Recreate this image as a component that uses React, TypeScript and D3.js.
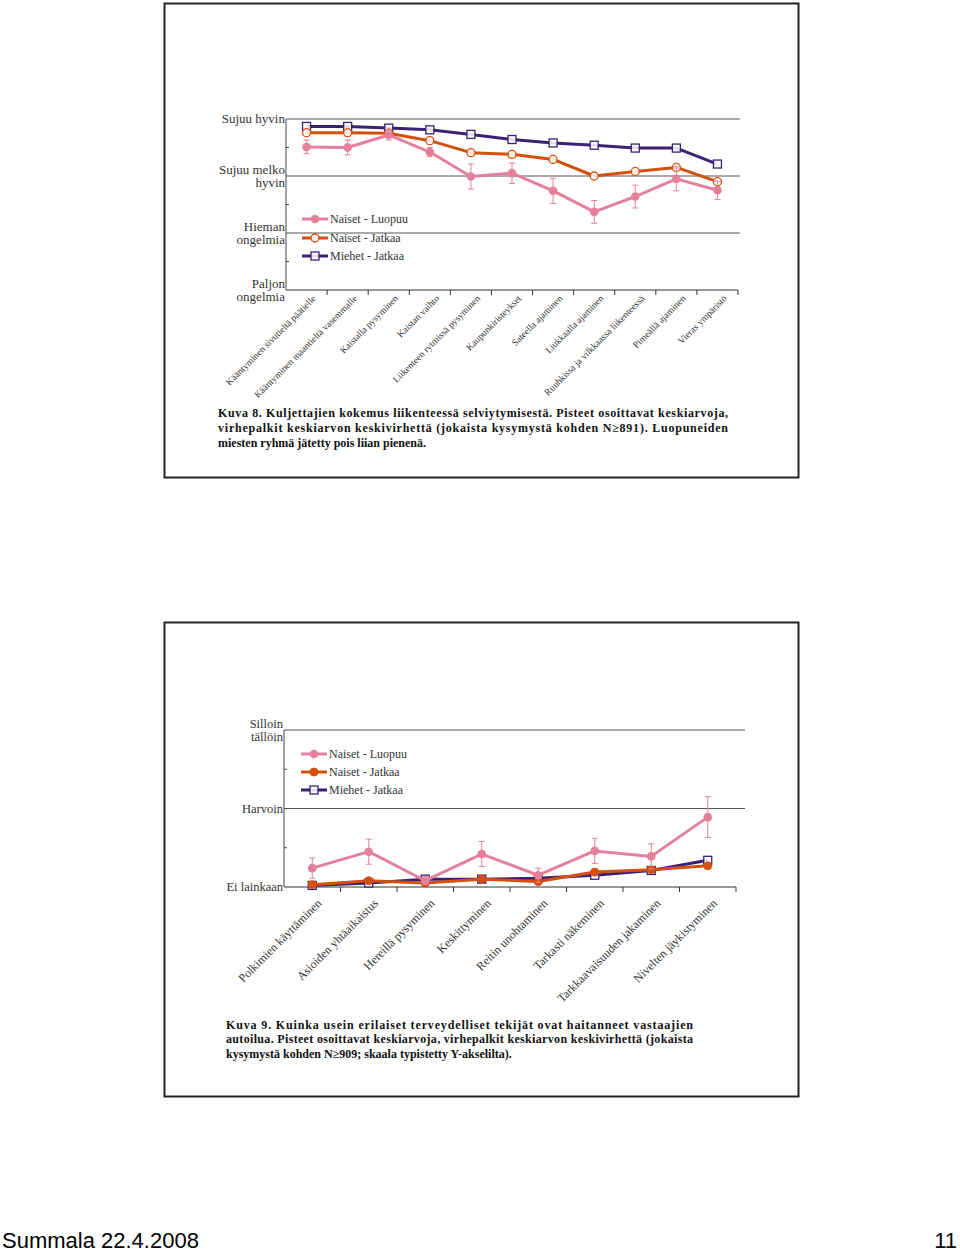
import React from "react";
import * as d3 from "d3";

// ---------- Data: chart 1 (Kuva 8) ----------
const topCategories = [
  "Kääntyminen sivutieltä päätielle",
  "Kääntyminen maantieltä vasemmalle",
  "Kaistalla pysyminen",
  "Kaistan vaihto",
  "Liikenteen rytmissä pysyminen",
  "Kaupunkiristeykset",
  "Sateella ajaminen",
  "Liukkaalla ajaminen",
  "Ruuhkissa ja vilkkaassa liikenteessä",
  "Pimeällä ajaminen",
  "Vieras ympäristö",
];
const topNaisetLuopuu = [3.51, 3.5, 3.72, 3.42, 2.99, 3.05, 2.74, 2.37, 2.64, 2.95, 2.75];
const topNaisetLuopuuErr = [0.12, 0.13, 0.09, 0.08, 0.22, 0.18, 0.22, 0.2, 0.2, 0.21, 0.16];
const topNaisetJatkaa = [3.76, 3.76, 3.75, 3.62, 3.41, 3.38, 3.29, 3.0, 3.08, 3.15, 2.9];
const topMiehetJatkaa = [3.87, 3.87, 3.84, 3.81, 3.73, 3.64, 3.58, 3.54, 3.49, 3.49, 3.21];
const topYTicks = [
  { v: 4, lines: ["Sujuu hyvin"] },
  { v: 3, lines: ["Sujuu melko", "hyvin"] },
  { v: 2, lines: ["Hieman", "ongelmia"] },
  { v: 1, lines: ["Paljon", "ongelmia"] },
];
const topCaption = [
  "Kuva 8. Kuljettajien kokemus liikenteessä selviytymisestä. Pisteet osoittavat keskiarvoja,",
  "virhepalkit keskiarvon keskivirhettä (jokaista kysymystä kohden N≥891). Luopuneiden",
  "miesten ryhmä jätetty pois liian pienenä.",
];

// ---------- Data: chart 2 (Kuva 9) ----------
const botCategories = [
  "Polkimien käyttäminen",
  "Asioiden yhtäaikaistus",
  "Hereillä pysyminen",
  "Keskittyminen",
  "Reitin unohtaminen",
  "Tarkasti näkeminen",
  "Tarkkaavaisuuden jakaminen",
  "Nivelten jäykistyminen",
];
const botNaisetLuopuu = [1.24, 1.45, 1.08, 1.42, 1.15, 1.46, 1.39, 1.89];
const botNaisetLuopuuErr = [0.13, 0.16, 0.05, 0.16, 0.09, 0.16, 0.16, 0.26];
const botNaisetJatkaa = [1.03, 1.08, 1.05, 1.1, 1.07, 1.19, 1.22, 1.27];
const botMiehetJatkaa = [1.02, 1.05, 1.1, 1.1, 1.11, 1.15, 1.21, 1.34];
const botYTicks = [
  { v: 3, lines: ["Silloin", "tällöin"] },
  { v: 2, lines: ["Harvoin"] },
  { v: 1, lines: ["Ei lainkaan"] },
];
const botCaption = [
  "Kuva 9. Kuinka usein erilaiset terveydelliset tekijät ovat haitanneet vastaajien",
  "autoilua. Pisteet osoittavat keskiarvoja, virhepalkit keskiarvon keskivirhettä (jokaista",
  "kysymystä kohden N≥909; skaala typistetty Y-akselilta).",
];

const seriesNames = ["Naiset - Luopuu", "Naiset - Jatkaa", "Miehet - Jatkaa"];

const PINK = "#e5809c";
const ORANGE = "#d4500f";
const PURPLE = "#3b2173";
const SERIF = "'Liberation Serif', 'Times New Roman', serif";

type Series = {
  name: string;
  values: number[];
  err?: number[];
  color: string;
  marker: "dot" | "ring" | "square" | "dotFilled";
};

function Marker({ type, x, y, color }: { type: string; x: number; y: number; color: string }) {
  if (type === "square")
    return <rect x={x - 4} y={y - 4} width={8} height={8} fill="#fff" fillOpacity={0.85} stroke={color} strokeWidth={1.3} />;
  if (type === "ring")
    return <circle cx={x} cy={y} r={4} fill="#fff" fillOpacity={0.85} stroke={color} strokeWidth={1.3} />;
  if (type === "dotFilled")
    return <circle cx={x} cy={y} r={4} fill={color} stroke={color} strokeWidth={1} />;
  return <circle cx={x} cy={y} r={4.3} fill={color} />;
}

type ChartProps = {
  categories: string[];
  series: Series[];
  yTicks: { v: number; lines: string[] }[];
  yDomain: [number, number];
  x0: number;
  x1: number;
  gridEnd: number;
  yTop: number;
  yBottom: number;
  yLabelFont: number;
  labelFont: number;
  labelDx: number;
  labelY: number;
  legendX: number;
  legendY: number[];
  caption: string[];
  captionX: number;
  captionW: number;
  captionY: number;
  captionLH: number;
};

function Chart(p: ChartProps) {
  const x = d3.scaleBand<string>().domain(p.categories).range([p.x0, p.x1]);
  const y = d3.scaleLinear().domain(p.yDomain).range([p.yBottom, p.yTop]);
  const cx = (c: string) => (x(c) as number) + x.bandwidth() / 2;
  const line = d3
    .line<number>()
    .x((_, i) => cx(p.categories[i]))
    .y((v) => y(v));
  const minor = d3.range(p.yDomain[0] + 0.5, p.yDomain[1], 1);
  return (
    <g>
      {p.yTicks
        .filter((t) => t.v !== p.yDomain[0])
        .map((t) => (
          <line key={"g" + t.v} x1={p.x0} x2={p.gridEnd} y1={y(t.v)} y2={y(t.v)} stroke="#555" strokeWidth={1} />
        ))}
      <line x1={p.x0} x2={p.x0} y1={p.yTop} y2={p.yBottom} stroke="#444" strokeWidth={1} />
      <line x1={p.x0} x2={p.x1} y1={p.yBottom} y2={p.yBottom} stroke="#333" strokeWidth={1.2} />
      {minor.map((m) => (
        <line key={"m" + m} x1={p.x0} x2={p.x0 + 3} y1={y(m)} y2={y(m)} stroke="#444" />
      ))}
      {p.categories.map((c, i) => (
        <line key={"t" + i} x1={(x(c) as number) + x.bandwidth()} x2={(x(c) as number) + x.bandwidth()} y1={p.yBottom} y2={p.yBottom + 5} stroke="#333" />
      ))}
      {p.yTicks.map((t) => (
        <text key={"yl" + t.v} fontFamily={SERIF} fontSize={p.yLabelFont} fill="#333" textAnchor="end">
          {t.lines.map((l, j) => (
            <tspan key={j} x={p.x0 - 1} y={y(t.v) + 4 + (t.lines.length > 1 ? j * 13 - 6 : 0)}>
              {l}
            </tspan>
          ))}
        </text>
      ))}
      {p.categories.map((c) => (
        <text
          key={"xl" + c}
          fontFamily={SERIF}
          fontSize={p.labelFont}
          fill="#333"
          textAnchor="end"
          transform={`translate(${cx(c) + p.labelDx},${p.labelY}) rotate(-45)`}
        >
          {c}
        </text>
      ))}
      {p.series
        .slice()
        .reverse()
        .map((s) => (
          <g key={s.name}>
            {s.err &&
              s.values.map((v, i) => {
                const xx = cx(p.categories[i]);
                const e = s.err![i];
                return (
                  <g key={i} stroke={s.color} strokeWidth={1}>
                    <line x1={xx} x2={xx} y1={y(v - e)} y2={y(v + e)} />
                    <line x1={xx - 3} x2={xx + 3} y1={y(v - e)} y2={y(v - e)} />
                    <line x1={xx - 3} x2={xx + 3} y1={y(v + e)} y2={y(v + e)} />
                  </g>
                );
              })}
            <path d={line(s.values) || ""} fill="none" stroke={s.color} strokeWidth={3} strokeLinejoin="round" />
            {s.values.map((v, i) => (
              <Marker key={i} type={s.marker} x={cx(p.categories[i])} y={y(v)} color={s.color} />
            ))}
          </g>
        ))}
      {p.series.map((s, i) => (
        <g key={"lg" + i}>
          <line x1={p.legendX} x2={p.legendX + 26} y1={p.legendY[i]} y2={p.legendY[i]} stroke={s.color} strokeWidth={3} />
          <Marker type={s.marker} x={p.legendX + 13} y={p.legendY[i]} color={s.color} />
          <text x={p.legendX + 28} y={p.legendY[i] + 4} fontFamily={SERIF} fontSize={12} fill="#333">
            {s.name}
          </text>
        </g>
      ))}
      {p.caption.map((l, i) => (
        <text
          key={"c" + i}
          x={p.captionX}
          y={p.captionY + i * p.captionLH}
          fontFamily={SERIF}
          fontWeight="bold"
          fontSize={12}
          fill="#111"
          {...(i < p.caption.length - 1 ? { textLength: p.captionW, lengthAdjust: "spacing" } : {})}
        >
          {l}
        </text>
      ))}
    </g>
  );
}

export default function App() {
  const topSeries: Series[] = [
    { name: seriesNames[0], values: topNaisetLuopuu, err: topNaisetLuopuuErr, color: PINK, marker: "dot" },
    { name: seriesNames[1], values: topNaisetJatkaa, color: ORANGE, marker: "ring" },
    { name: seriesNames[2], values: topMiehetJatkaa, color: PURPLE, marker: "square" },
  ];
  const botSeries: Series[] = [
    { name: seriesNames[0], values: botNaisetLuopuu, err: botNaisetLuopuuErr, color: PINK, marker: "dot" },
    { name: seriesNames[1], values: botNaisetJatkaa, color: ORANGE, marker: "dotFilled" },
    { name: seriesNames[2], values: botMiehetJatkaa, color: PURPLE, marker: "square" },
  ];
  return (
    <svg width={960} height={1252} style={{ position: "absolute", left: 0, top: 0, background: "#fff" }}>
      <rect x={0} y={0} width={960} height={1252} fill="#fff" />
      <rect x={164.5} y={3.5} width={634} height={474} fill="none" stroke="#222" strokeWidth={2} />
      <rect x={164.5} y={622.5} width={634} height={474} fill="none" stroke="#222" strokeWidth={2} />
      <Chart
        categories={topCategories}
        series={topSeries}
        yTicks={topYTicks}
        yDomain={[1, 4]}
        x0={286}
        x1={738}
        gridEnd={740}
        yTop={119}
        yBottom={290}
        yLabelFont={13}
        labelFont={9.5}
        labelDx={10}
        labelY={299}
        legendX={302}
        legendY={[219, 238, 256]}
        caption={topCaption}
        captionX={218}
        captionW={510}
        captionY={417}
        captionLH={14.8}
      />
      <Chart
        categories={botCategories}
        series={botSeries}
        yTicks={botYTicks}
        yDomain={[1, 3]}
        x0={284}
        x1={736}
        gridEnd={745}
        yTop={730}
        yBottom={887}
        yLabelFont={12.5}
        labelFont={12}
        labelDx={10}
        labelY={904}
        legendX={301}
        legendY={[754, 772, 790]}
        caption={botCaption}
        captionX={226}
        captionW={467}
        captionY={1029}
        captionLH={14.3}
      />
      <text x={2} y={1248} fontFamily="'Liberation Sans', Arial, sans-serif" fontSize={22} fill="#000">
        Summala 22.4.2008
      </text>
      <text x={957} y={1248} textAnchor="end" fontFamily="'Liberation Sans', Arial, sans-serif" fontSize={22} fill="#000">
        11
      </text>
    </svg>
  );
}
